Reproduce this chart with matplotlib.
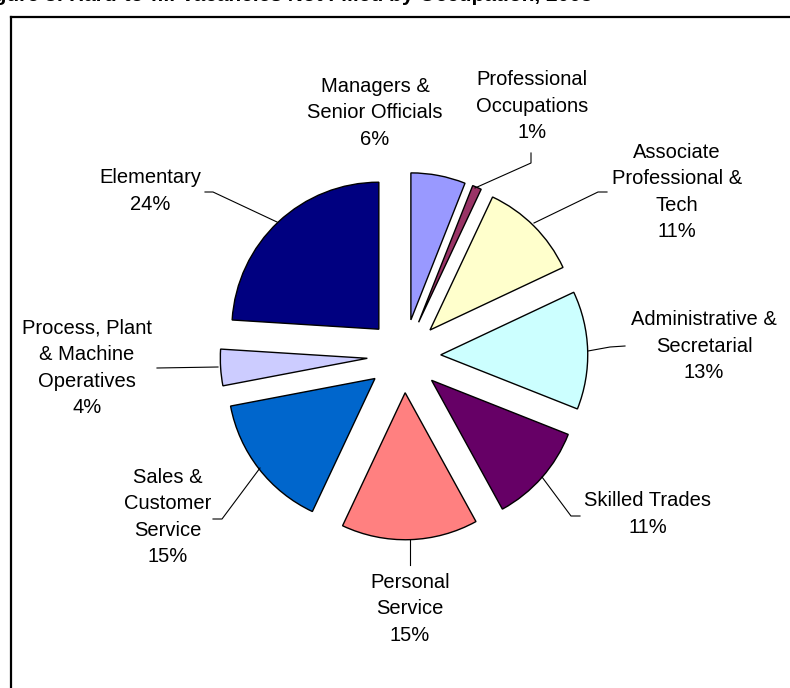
import matplotlib
matplotlib.use("Agg")
import matplotlib.pyplot as plt
from matplotlib.lines import Line2D

plt.rcParams['font.family'] = ['Liberation Sans', 'DejaVu Sans']

# Share of hard-to-fill vacancies by occupation (per cent)
occupations = [
    "Managers &\nSenior Officials",
    "Professional\nOccupations",
    "Associate\nProfessional &\nTech",
    "Administrative &\nSecretarial",
    "Skilled Trades",
    "Personal\nService",
    "Sales &\nCustomer\nService",
    "Process, Plant\n& Machine\nOperatives",
    "Elementary",
]
shares = [6, 1, 11, 13, 11, 15, 15, 4, 24]
colors = ["#9999FF", "#993366", "#FFFFCC", "#CCFFFF", "#660066",
          "#FF8080", "#0066CC", "#CCCCFF", "#000080"]

W, H = 790, 688
CX, CY, R = 404, 356, 147  # pie centre and radius in pixels


def u(px, py):
    # pixel position -> pie units (radius = 1)
    return (px - CX) / R, (CY - py) / R


fig = plt.figure(figsize=(W / 100, H / 100), dpi=100)
ax = fig.add_axes([0, 0, 1, 1])

ax.pie(shares, colors=colors, startangle=90, counterclock=False,
       explode=[0.25] * len(shares), radius=1,
       wedgeprops=dict(edgecolor='black', linewidth=1.0))

# pie() sets its own limits, so override afterwards
ax.set_xlim(-CX / R, (W - CX) / R)
ax.set_ylim((CY - H) / R, CY / R)
ax.set_aspect('equal')
ax.axis('off')

# label centres (px)
label_pos = [(375, 113), (532, 106), (677, 192), (704, 346), (648, 514),
             (410, 609), (168, 517), (87, 368), (150, 191)]
for name, v, (px, py) in zip(occupations, shares, label_pos):
    ax.text(*u(px, py), f"{name}\n{v}%", ha='center', va='center',
            fontsize=14.5, linespacing=1.5, color='black')

# leader lines (px)
leaders = [
    [(531, 153), (531, 163), (475, 188)],
    [(607, 192), (598, 192), (534, 223)],
    [(625, 346), (610, 347), (588, 351)],
    [(580, 516), (571, 516), (542, 477)],
    [(410, 565), (410, 540)],
    [(213, 519), (222, 519), (260, 468)],
    [(157, 368), (218, 367)],
    [(205, 192), (213, 192), (277, 222)],
]
for pts in leaders:
    xs, ys = zip(*[u(*p) for p in pts])
    ax.plot(xs, ys, color='black', linewidth=0.8)

# chart frame (top and left edges visible)
fig.add_artist(Line2D([11 / W, 1], [1 - 17 / H, 1 - 17 / H],
                      color='black', linewidth=1.6))
fig.add_artist(Line2D([11 / W, 11 / W], [0, 1 - 17 / H],
                      color='black', linewidth=1.6))

# title sits mostly above the visible area
fig.text(-25 / W, 1 - 1 / H, "Figure 3: Hard-to-fill Vacancies Not Filled by Occupation, 2005",
         ha='left', va='baseline', fontsize=15, fontweight='bold')

fig.savefig("out.png", dpi=100)
